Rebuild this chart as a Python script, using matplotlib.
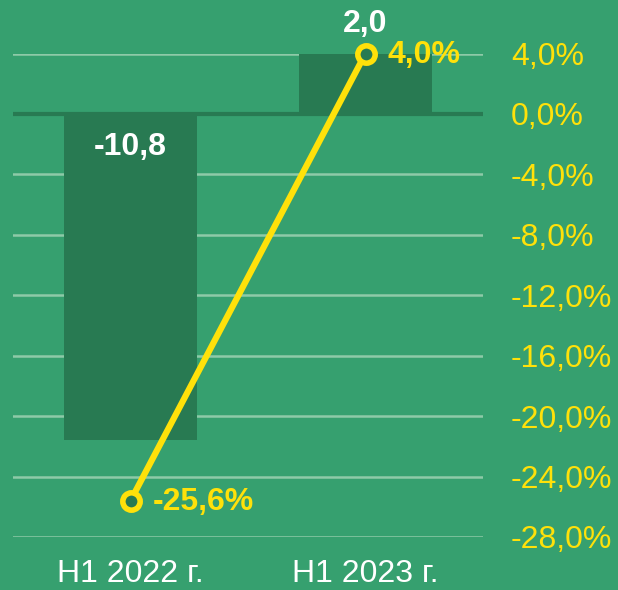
import matplotlib.pyplot as plt

categories = ['H1 2022 г.', 'H1 2023 г.']
bar_values = [-10.8, 2.0]
line_values = [-25.6, 4.0]
pct_ticks = [4, 0, -4, -8, -12, -16, -20, -24, -28]

bg = '#36a06f'
bar_col = '#287a52'
yellow = '#ffe10a'
grid_col = '#8ecaa8'

plt.rcParams['font.family'] = ['Liberation Sans', 'DejaVu Sans']
fs = 23

fig = plt.figure(figsize=(6.18, 5.9), dpi=100, facecolor=bg)
ax = fig.add_axes([13 / 618, 1 - 537 / 590, 470 / 618, 483.5 / 590])
ax.set_facecolor(bg)
ax2 = ax.twinx()

x = list(range(len(categories)))

# gridlines behind bars (left axis = right axis / 2)
for v in pct_ticks:
    if v == 0:
        continue
    ax.axhline(v / 2, color=grid_col, lw=1.8, zorder=0)

ax.bar(x, bar_values, width=0.57, color=bar_col, zorder=2)
ax.axhline(0, color=bar_col, lw=3, zorder=3)

ax.set_xlim(-0.5, 1.5)
ax.set_ylim(-14, 2)
ax.set_yticks([])
ax.set_xticks(x)
ax.set_xticklabels(categories, fontsize=fs, color='white')
ax.tick_params(axis='x', length=0, pad=16)
for s in ax.spines.values():
    s.set_visible(False)

# bar value labels
for xi, v in zip(x, bar_values):
    lbl = f'{v:.1f}'.replace('.', ',')
    if v < 0:
        ax.annotate(lbl, (xi, 0), xytext=(0, -24), textcoords='offset points',
                    ha='center', va='center', fontsize=fs, fontweight='bold',
                    color='white', zorder=5)
    else:
        ax.annotate(lbl, (xi, v), xytext=(0, 21), textcoords='offset points',
                    ha='center', va='center', fontsize=fs, fontweight='bold',
                    color='white', zorder=5, annotation_clip=False)

ax2.plot(x, line_values, color=yellow, lw=4.5, marker='o', ms=12.5,
         mfc=bar_col, mec=yellow, mew=4, zorder=6, clip_on=False)
ax2.set_ylim(-28, 4)
ax2.set_yticks(pct_ticks)
ax2.set_yticklabels([f'{v:.1f}%'.replace('.', ',') for v in pct_ticks],
                    fontsize=fs, color=yellow)
ax2.tick_params(axis='y', length=0, pad=20)
for s in ax2.spines.values():
    s.set_visible(False)

for xi, v in zip(x, line_values):
    lbl = f'{v:.1f}%'.replace('.', ',')
    ax2.annotate(lbl, (xi, v), xytext=(16, -1), textcoords='offset points',
                 ha='left', va='center', fontsize=fs, fontweight='bold',
                 color=yellow, zorder=7, annotation_clip=False)

fig.savefig('out.png', dpi=100, facecolor=bg)
